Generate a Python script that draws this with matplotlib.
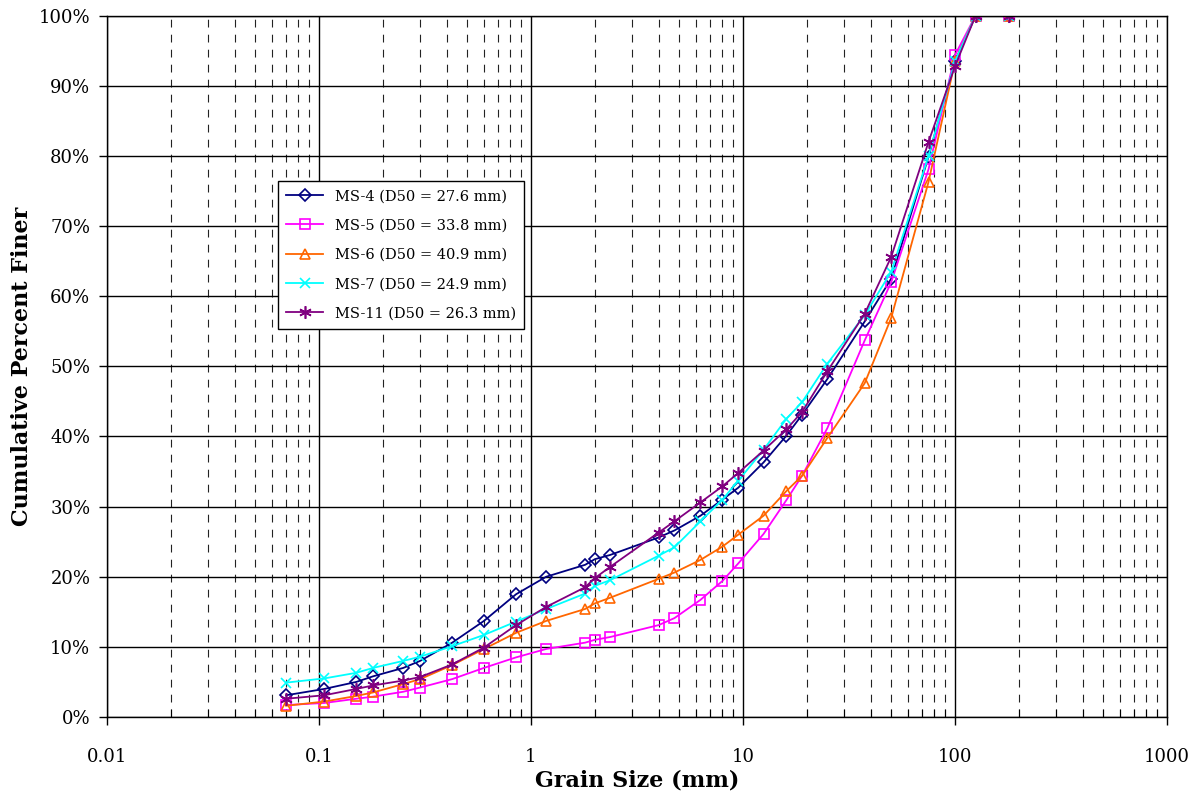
import numpy as np
import matplotlib
matplotlib.use('Agg')
import matplotlib.pyplot as plt
from matplotlib.ticker import LogLocator, FixedLocator, NullFormatter, FuncFormatter

# rozmiary sit (mm)
sizes = [0.07, 0.106, 0.15, 0.18, 0.25, 0.3, 0.425, 0.6, 0.85, 1.18, 1.8, 2.0, 2.36,
         4.0, 4.75, 6.3, 8.0, 9.5, 12.5, 16.0, 19.0, 25.0, 37.5, 50.0, 75.0, 100.0, 125.0, 180.0]

# procent przechodzacy (%)
ms4 = [3.1, 4.0, 5.0, 5.8, 7.0, 8.0, 10.6, 13.7, 17.5, 20.0, 21.7, 22.5, 23.1,
       25.6, 26.6, 28.7, 31.0, 32.7, 36.3, 40.1, 43.1, 48.2, 56.4, 62.5, 79.9, 93.5, 100, 100]
ms5 = [1.7, 2.0, 2.6, 2.9, 3.6, 4.2, 5.4, 7.0, 8.5, 9.7, 10.6, 11.0, 11.4,
       13.1, 14.1, 16.7, 19.4, 21.9, 26.1, 30.9, 34.4, 41.2, 53.7, 62.0, 78.1, 94.4, 100, 100]
ms6 = [1.6, 2.2, 3.0, 3.5, 4.7, 5.4, 7.4, 9.7, 12.0, 13.7, 15.4, 16.2, 17.0,
       19.7, 20.6, 22.4, 24.3, 26.0, 28.7, 32.2, 34.4, 39.8, 47.6, 56.9, 76.3, 93.5, 100, 100]
ms7 = [4.9, 5.5, 6.3, 7.0, 8.0, 8.6, 10.1, 11.7, 13.6, 15.4, 17.6, 18.7, 19.5,
       23.0, 24.2, 27.9, 31.0, 33.7, 38.1, 42.5, 44.9, 50.4, 57.3, 63.5, 80.0, 93.5, 100, 100]
ms11 = [2.6, 3.1, 4.0, 4.5, 5.2, 5.7, 7.5, 9.9, 13.1, 15.7, 18.5, 19.8, 21.4,
        26.3, 27.9, 30.6, 32.9, 34.8, 38.0, 41.0, 43.5, 49.3, 57.5, 65.6, 82.0, 92.8, 100, 100]

labels = ['MS-4 (D50 = 27.6 mm)', 'MS-5 (D50 = 33.8 mm)', 'MS-6 (D50 = 40.9 mm)',
          'MS-7 (D50 = 24.9 mm)', 'MS-11 (D50 = 26.3 mm)']

plt.rcParams['font.family'] = ['DejaVu Serif']

fig = plt.figure(figsize=(11.94, 7.94), dpi=100)
ax = fig.add_axes([0.0896, 0.0970, 0.8878, 0.8832])

kw = dict(lw=1.3, ms=7, mew=1.2)
ax.plot(sizes, ms4, color='#000080', marker='D', mfc='none', label=labels[0], lw=1.3, ms=6, mew=1.2)
ax.plot(sizes, ms5, color='#FF00FF', marker='s', mfc='none', label=labels[1], **kw)
ax.plot(sizes, ms6, color='#FF6600', marker='^', mfc='none', label=labels[2], **kw)
ax.plot(sizes, ms7, color='#00FFFF', marker='x', label=labels[3], **kw)
ax.plot(sizes, ms11, color='#800080', marker=(6, 2, 0), label=labels[4], lw=1.3, ms=9, mew=1.2)

ax.set_xscale('log')
ax.set_xlim(0.01, 1000)
ax.set_ylim(0, 100)

ax.xaxis.set_major_locator(LogLocator(base=10, numticks=10))
ax.xaxis.set_minor_locator(LogLocator(base=10, subs=np.arange(2, 10), numticks=20))
ax.xaxis.set_minor_formatter(NullFormatter())
ax.xaxis.set_major_formatter(FuncFormatter(lambda v, p: f'{v:g}'))
ax.yaxis.set_major_locator(FixedLocator(np.arange(0, 101, 10)))
ax.yaxis.set_major_formatter(FuncFormatter(lambda v, p: f'{v:.0f}%'))

ax.grid(True, which='major', color='black', lw=1.0, ls='-')
ax.grid(True, which='minor', axis='x', color='#222222', lw=0.8, ls=(0, (7, 6.5)))
ax.set_axisbelow(True)

ax.tick_params(axis='x', which='major', direction='out', length=6, width=1, pad=16, labelsize=13)
ax.tick_params(axis='x', which='minor', direction='in', length=6, width=0.8)
ax.tick_params(axis='y', which='major', direction='out', length=6, width=1, pad=6, labelsize=13)

for s in ax.spines.values():
    s.set_linewidth(1.0)

ax.set_xlabel('Grain Size (mm)', fontsize=16, fontweight='bold', labelpad=3)
ax.set_ylabel('Cumulative Percent Finer', fontsize=16, fontweight='bold', labelpad=4)

leg = ax.legend(loc='upper left', bbox_to_anchor=(0.161, 0.765), fontsize=10.5,
                frameon=True, fancybox=False, edgecolor='black', framealpha=1,
                borderpad=0.6, labelspacing=1.05, handlelength=2.5, handletextpad=0.8,
                borderaxespad=0)
leg.get_frame().set_linewidth(1.0)

fig.savefig('out.png', dpi=100)
